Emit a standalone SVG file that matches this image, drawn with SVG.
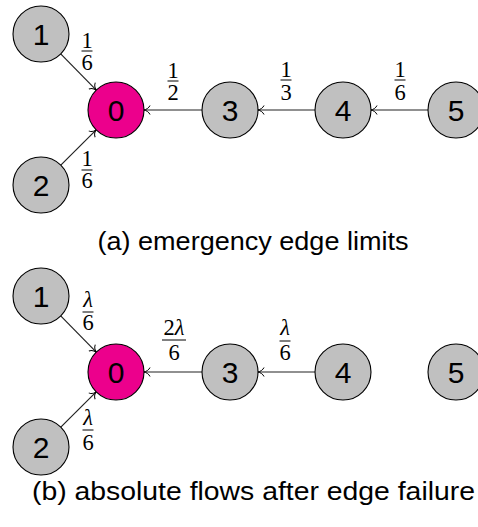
<svg xmlns="http://www.w3.org/2000/svg" width="478" height="527" viewBox="0 0 478 527">
<style>
.node circle{fill:#c0c0c0;stroke:#000;stroke-width:1.1}
.node.src circle{fill:#ec008c}
.node text{font-family:"Liberation Sans","DejaVu Sans",sans-serif;font-size:30px;text-anchor:middle;fill:#000}
.edge{stroke:#222;stroke-width:1.2;fill:none;marker-end:url(#arr)}
.frac text{font-family:"Liberation Serif","DejaVu Serif",serif;font-size:22.5px;text-anchor:middle;fill:#000}
.frac text.l{font-style:italic}
.frac line{stroke:#000;stroke-width:1}
.cap{font-family:"Liberation Sans","DejaVu Sans",sans-serif;font-size:26px;text-anchor:middle;fill:#000}
</style>
<defs>
<marker id="arr" markerUnits="userSpaceOnUse" markerWidth="12" markerHeight="12" viewBox="-7 -6 8 12" refX="0" refY="0" orient="auto">
<path d="M-6,-4.5 C-5,-2 -2,-0.4 0,0 C-2,0.4 -5,2 -6,4.5" fill="none" stroke="#000" stroke-width="1"/>
</marker>
</defs>
<rect width="478" height="527" fill="#fff"/>
<!-- Panel (a) -->
<g id="connectors-a">
<line class="edge" x1="60.7" y1="53.9" x2="96.3" y2="90.1"/>
<line class="edge" x1="60.8" y1="165.2" x2="96.2" y2="129.8"/>
<line class="edge" x1="202" y1="110" x2="144" y2="110"/>
<line class="edge" x1="315" y1="110" x2="258" y2="110"/>
<line class="edge" x1="428" y1="110" x2="371" y2="110"/>
</g>
<g id="labels-a">
<g class="frac"><text x="87" y="48">1</text><line x1="81.5" y1="51" x2="92.5" y2="51"/><text x="87" y="70">6</text></g>
<g class="frac"><text x="87" y="166">1</text><line x1="81.5" y1="170" x2="92.5" y2="170"/><text x="87" y="188">6</text></g>
<g class="frac"><text x="173" y="78">1</text><line x1="167.5" y1="81" x2="178.5" y2="81"/><text x="173" y="100">2</text></g>
<g class="frac"><text x="286" y="77">1</text><line x1="280.5" y1="80" x2="291.5" y2="80"/><text x="286" y="100">3</text></g>
<g class="frac"><text x="400" y="77">1</text><line x1="394.5" y1="80" x2="405.5" y2="80"/><text x="400" y="100">6</text></g>
</g>
<g id="a-n1" class="node"><circle cx="41" cy="34" r="28"/><text x="41" y="45">1</text></g>
<g id="a-n2" class="node"><circle cx="41" cy="185" r="28"/><text x="41" y="196">2</text></g>
<g id="a-n0" class="node src"><circle cx="116" cy="110" r="28"/><text x="116" y="121">0</text></g>
<g id="a-n3" class="node"><circle cx="230" cy="110" r="28"/><text x="230" y="121">3</text></g>
<g id="a-n4" class="node"><circle cx="343" cy="110" r="28"/><text x="343" y="121">4</text></g>
<g id="a-n5" class="node"><circle cx="456" cy="110" r="28"/><text x="456" y="121">5</text></g>
<text class="cap" x="253" y="250" textLength="311" lengthAdjust="spacingAndGlyphs">(a) emergency edge limits</text>
<!-- Panel (b) -->
<g id="connectors-b">
<line class="edge" x1="60.7" y1="315.9" x2="96.3" y2="352.1"/>
<line class="edge" x1="60.8" y1="427.2" x2="96.2" y2="391.8"/>
<line class="edge" x1="202" y1="372" x2="144" y2="372"/>
<line class="edge" x1="315" y1="372" x2="258" y2="372"/>
</g>
<g id="labels-b">
<g class="frac"><text class="l" x="88" y="307">λ</text><line x1="82.5" y1="312" x2="93.5" y2="312"/><text x="88" y="330">6</text></g>
<g class="frac"><text class="l" x="88" y="425">λ</text><line x1="82.5" y1="430" x2="93.5" y2="430"/><text x="88" y="450">6</text></g>
<g class="frac"><text x="174" y="335">2<tspan font-style="italic">λ</tspan></text><line x1="162" y1="340" x2="186" y2="340"/><text x="174" y="360">6</text></g>
<g class="frac"><text class="l" x="285" y="335">λ</text><line x1="279.5" y1="341" x2="290.5" y2="341"/><text x="285" y="360">6</text></g>
</g>
<g id="b-n1" class="node"><circle cx="41" cy="296" r="28"/><text x="41" y="307">1</text></g>
<g id="b-n2" class="node"><circle cx="41" cy="447" r="28"/><text x="41" y="458">2</text></g>
<g id="b-n0" class="node src"><circle cx="116" cy="372" r="28"/><text x="116" y="383">0</text></g>
<g id="b-n3" class="node"><circle cx="230" cy="372" r="28"/><text x="230" y="383">3</text></g>
<g id="b-n4" class="node"><circle cx="343" cy="372" r="28"/><text x="343" y="383">4</text></g>
<g id="b-n5" class="node"><circle cx="456" cy="372" r="28"/><text x="456" y="383">5</text></g>
<text class="cap" x="253.5" y="500" textLength="443" lengthAdjust="spacingAndGlyphs">(b) absolute flows after edge failure</text>
</svg>
